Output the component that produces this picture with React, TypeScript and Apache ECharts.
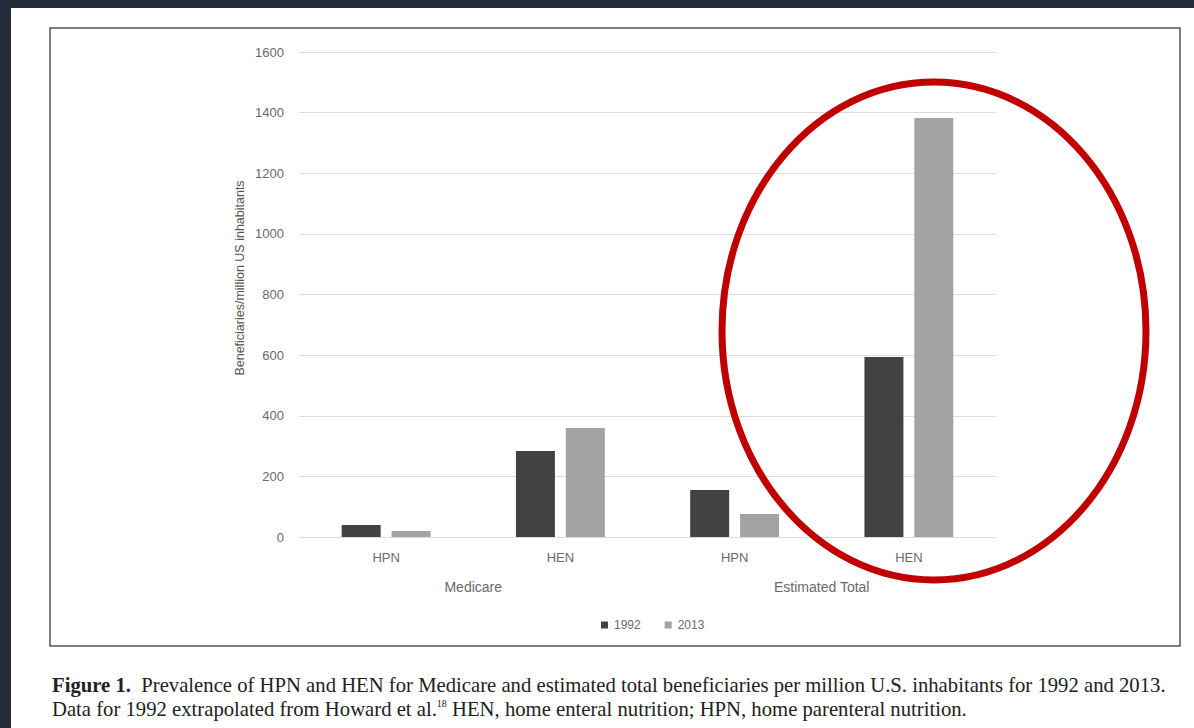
import React, { useEffect, useRef } from "react";
import * as echarts from "echarts";

const categories = ["HPN", "HEN", "HPN", "HEN"];
const groups = ["Medicare", "Estimated Total"];
const seriesNames = ["1992", "2013"];
const values1992 = [40, 284, 155, 594];
const values2013 = [20, 360, 76, 1382];
const yTicksMin = 0;
const yTicksMax = 1600;
const yTicksInterval = 200;
const yAxisTitle = "Beneficiaries/million US inhabitants";
const captionLabel = "Figure 1.";
const captionLine1 =
  "Prevalence of HPN and HEN for Medicare and estimated total beneficiaries per million U.S. inhabitants for 1992 and 2013.";
const captionLine2a = "Data for 1992 extrapolated from Howard et al.";
const captionRef = "18";
const captionLine2b = " HEN, home enteral nutrition; HPN, home parenteral nutrition.";

const FONT = "'Liberation Sans', Arial, sans-serif";
const SERIF = "'Liberation Serif', 'Times New Roman', serif";
const CAP_SIZE = 20.7;
const TXT = "#6a6a6a";

export default function App() {
  const ref = useRef<HTMLDivElement>(null);
  useEffect(() => {
    const chart = echarts.init(ref.current!, null, { renderer: "svg" });
    chart.setOption({
      animation: false,
      backgroundColor: "#ffffff",
      grid: { left: 299, right: 198, top: 52, bottom: 191, containLabel: false },
      legend: {
        data: seriesNames,
        left: 596,
        top: 614,
        icon: "rect",
        itemWidth: 7,
        itemHeight: 7,
        itemGap: 24,
        textStyle: { fontFamily: FONT, fontSize: 12, color: TXT, padding: [0, 0, 0, 1] },
      },
      xAxis: [
        {
          type: "category",
          data: categories,
          position: "bottom",
          axisLine: { show: false },
          axisTick: { show: false },
          axisLabel: { fontFamily: FONT, fontSize: 13, color: TXT, margin: 14 },
        },
        {
          type: "category",
          data: groups,
          position: "bottom",
          offset: 29,
          axisLine: { show: false },
          axisTick: { show: false },
          axisLabel: { fontFamily: FONT, fontSize: 14, color: TXT, margin: 14 },
        },
      ],
      yAxis: {
        type: "value",
        min: yTicksMin,
        max: yTicksMax,
        interval: yTicksInterval,
        axisLine: { show: false },
        axisTick: { show: false },
        axisLabel: {
          fontFamily: FONT,
          fontSize: 13,
          color: TXT,
          margin: 15,
          formatter: (v: number) => String(v),
        },
        splitLine: { lineStyle: { color: "#dcdcdc", width: 1 } },
      },
      series: [
        {
          name: seriesNames[0],
          type: "bar",
          data: values1992,
          xAxisIndex: 0,
          barGap: "28%",
          barCategoryGap: "49%",
          itemStyle: { color: "#424242" },
        },
        {
          name: seriesNames[1],
          type: "bar",
          data: values2013,
          xAxisIndex: 0,
          itemStyle: { color: "#a3a3a3" },
        },
      ],
      graphic: [
        { type: "rect", shape: { x: 0, y: 0, width: 1194, height: 8 }, style: { fill: "#232a38" } },
        { type: "rect", shape: { x: 0, y: 0, width: 11, height: 728 }, style: { fill: "#232a38" } },
        {
          type: "rect",
          shape: { x: 50, y: 28, width: 1130, height: 618 },
          style: { fill: "none", stroke: "#555", lineWidth: 1.5 },
        },
        {
          type: "text",
          x: 240,
          y: 278,
          rotation: Math.PI / 2,
          style: {
            text: yAxisTitle,
            fontFamily: FONT,
            fontSize: 12.5,
            fill: "#555",
            align: "center",
            verticalAlign: "middle",
          },
        },
        {
          type: "text",
          x: 52,
          y: 685,
          style: {
            text: "{b|" + captionLabel + "}  " + captionLine1,
            verticalAlign: "middle",
            rich: {
              b: { fontFamily: SERIF, fontSize: CAP_SIZE, fontWeight: "bold", fill: "#222" },
            },
            fontFamily: SERIF,
            fontSize: CAP_SIZE,
            fill: "#222",
          },
        },
        {
          type: "text",
          x: 52,
          y: 709,
          style: {
            text: captionLine2a + "{s|" + captionRef + "}" + captionLine2b,
            verticalAlign: "middle",
            rich: {
              s: { fontFamily: SERIF, fontSize: 10, fill: "#222", verticalAlign: "top", padding: [0, 0, 9, 0] },
            },
            fontFamily: SERIF,
            fontSize: CAP_SIZE,
            fill: "#222",
          },
        },
        {
          type: "ellipse",
          shape: { cx: 934, cy: 331, rx: 212, ry: 249 },
          style: { fill: "none", stroke: "#c00000", lineWidth: 7 },
          z: 100,
        },
      ],
    });
    return () => chart.dispose();
  }, []);
  return (
    <div
      ref={ref}
      style={{ position: "fixed", left: 0, top: 0, width: 1194, height: 728, background: "#fff" }}
    />
  );
}
